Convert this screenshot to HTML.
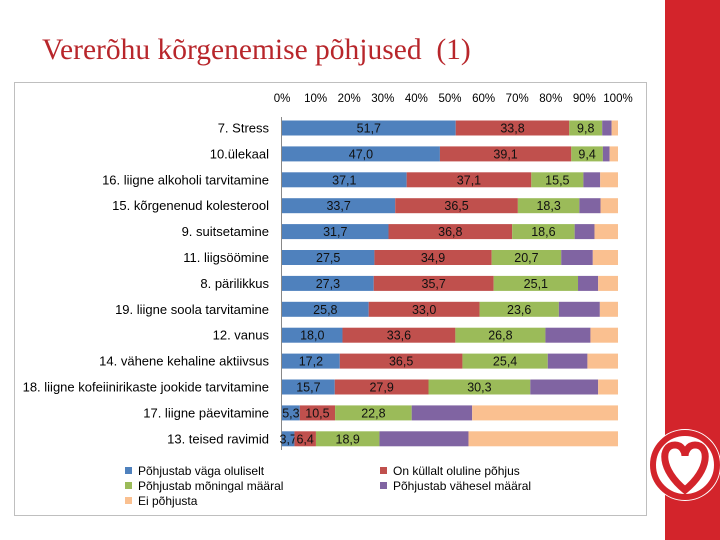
<!DOCTYPE html>
<html><head><meta charset="utf-8"><style>
body{margin:0;width:720px;height:540px;background:#fff;overflow:hidden;position:relative;font-family:"Liberation Sans",sans-serif}
#title{position:absolute;left:42px;top:34px;font-family:"Liberation Serif",serif;font-size:29.5px;color:#B8262B;white-space:nowrap}
</style></head><body>
<div id="title">Vererõhu kõrgenemise põhjused&nbsp; (1)</div>
<svg width="720" height="540" style="position:absolute;left:0;top:0">
<rect x="665" y="0" width="55" height="540" fill="#D3242B"/>
<g>
<circle cx="685" cy="465" r="36" fill="#fff"/>
<circle cx="685" cy="465" r="32" fill="none" stroke="#D3242B" stroke-width="6"/>
<path d="M685 490 C660 470 660 445 675 445 C682 445 685 452 685 456 C685 452 688 445 695 445 C710 445 710 470 685 490Z" fill="none" stroke="#D3242B" stroke-width="7"/>
</g>
<rect x="14.5" y="82.5" width="632" height="433" fill="none" stroke="#BFBFBF"/>
<g id="ticks"></g><g id="cats"></g><g id="bars"></g><g id="legend"></g>
</svg>
<script>
const categories=["7. Stress","10.ülekaal","16. liigne alkoholi tarvitamine","15. kõrgenenud kolesterool","9. suitsetamine","11. liigsöömine","8. pärilikkus","19. liigne soola tarvitamine","12. vanus","14. vähene kehaline aktiivsus","18. liigne kofeiinirikaste jookide tarvitamine","17. liigne päevitamine","13. teised ravimid"];
const sBlue=[51.7,47.0,37.1,33.7,31.7,27.5,27.3,25.8,18.0,17.2,15.7,5.3,3.7];
const sRed=[33.8,39.1,37.1,36.5,36.8,34.9,35.7,33.0,33.6,36.5,27.9,10.5,6.4];
const sGreen=[9.8,9.4,15.5,18.3,18.6,20.7,25.1,23.6,26.8,25.4,30.3,22.8,18.9];
const sPurple=[2.8,2.0,5.0,6.3,5.9,9.4,6.0,12.2,13.4,11.8,20.2,18.0,26.5];
const sPeach=[1.9,2.5,5.3,5.2,7.0,7.5,5.9,5.4,8.2,9.1,5.9,43.4,44.5];
const seriesNames=["Põhjustab väga oluliselt","On küllalt oluline põhjus","Põhjustab mõningal määral","Põhjustab vähesel määral","Ei põhjusta"];
const tickLabels=["0%","10%","20%","30%","40%","50%","60%","70%","80%","90%","100%"];
const colors=["#4F81BD","#C0504D","#9BBB59","#8064A2","#FAC090"];
const NS="http://www.w3.org/2000/svg";
const x0=282,pw=3.36;
const X=v=>x0+v*pw;
const Y=i=>128+i*25.9;
function mk(t,a,p){const e=document.createElementNS(NS,t);for(const k in a)e.setAttribute(k,a[k]);p.appendChild(e);return e;}
const tk=document.getElementById('ticks');
tickLabels.forEach((t,i)=>{const e=mk('text',{x:X(i*10),y:102,'text-anchor':'middle','font-size':'11.5',fill:'#000'},tk);e.textContent=t;

});
const ax=mk('line',{x1:x0-0.5,x2:x0-0.5,y1:117,y2:450,stroke:'#888'},tk);


const cg=document.getElementById('cats');
categories.forEach((c,i)=>{const e=mk('text',{x:269,y:Y(i)+4.5,'text-anchor':'end','font-size':'13',fill:'#000'},cg);e.textContent=c;

});
const bg=document.getElementById('bars');
const series=[sBlue,sRed,sGreen,sPurple,sPeach];
categories.forEach((c,i)=>{let acc=0;series.forEach((s,j)=>{const v=s[i];
const r=mk('rect',{x:X(acc),y:Y(i)-7.5,width:v*pw,height:15,fill:colors[j]},bg);


if(j<3){const t=mk('text',{x:X(acc+v/2),y:Y(i)+4.5,'text-anchor':'middle','font-size':'12.5',fill:'#111'},bg);t.textContent=v.toFixed(1).replace('.',',');

}
acc+=v;});});
const lg=document.getElementById('legend');
const lpos=[[128,471],[383,471],[128,486],[383,486],[128,501]];
seriesNames.forEach((n,j)=>{const [lx,ly]=lpos[j];
const g=mk('g',{},lg);


mk('rect',{x:lx-3,y:ly-4,width:7,height:7,fill:colors[j]},g);
const t=mk('text',{x:lx+10,y:ly+4,'font-size':'12',fill:'#000'},g);t.textContent=n;});
</script>
</body></html>
